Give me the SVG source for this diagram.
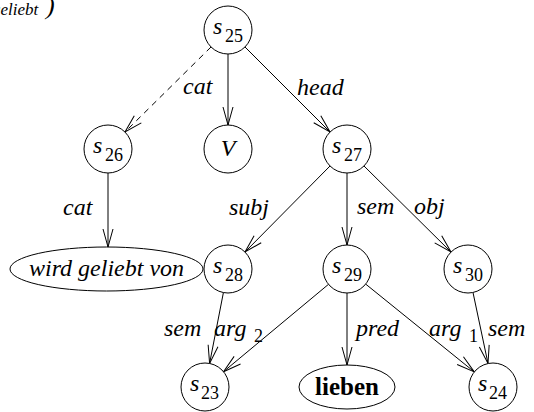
<svg xmlns="http://www.w3.org/2000/svg" width="534" height="412" viewBox="0 0 534 412">
  <style>
    .node { fill: #fff; stroke: #000; stroke-width: 1; }
    .edge { fill: none; stroke: #000; stroke-width: 1; marker-end: url(#arrow); }
    .dashed { stroke-dasharray: 6 5; }
    text { font-family: 'Liberation Serif', 'Times New Roman', Times, 'Nimbus Roman', 'TeX Gyre Termes', FreeSerif, 'Noto Serif', 'DejaVu Serif', serif; fill: #000; }
    .lbl { font-style: italic; font-size: 24px; }
    .sym { font-style: italic; font-size: 24px; }
    .sub { font-style: normal; font-size: 18px; }
    .bold { font-weight: bold; font-size: 25px; }
  </style>
  <defs>
    <marker id="arrow" markerUnits="userSpaceOnUse" markerWidth="24" markerHeight="14" refX="0" refY="0" viewBox="-20 -7 22 14" orient="auto">
      <path d="M-18,-5 L0,0 L-18,5" fill="none" stroke="#000" stroke-width="1"/>
    </marker>
  </defs>

  <!-- heading fragment, clipped by the top-left corner -->
  <text class="lbl" x="-8" y="15" style="font-size:17px">geliebt</text>
  <text class="lbl" x="46" y="14" style="font-size:26px">)</text>

  <!-- connectors -->
  <g id="edges">
    <line class="edge dashed" x1="211" y1="47" x2="125" y2="132"/>
    <line class="edge" x1="228" y1="54" x2="228" y2="125"/>
    <line class="edge" x1="245" y1="47" x2="330" y2="132"/>
    <line class="edge" x1="108" y1="173" x2="108" y2="247"/>
    <line class="edge" x1="330" y1="166" x2="245" y2="252"/>
    <line class="edge" x1="347" y1="173" x2="347" y2="245"/>
    <line class="edge" x1="364" y1="166" x2="451" y2="252"/>
    <line class="edge" x1="223.4" y1="292.6" x2="209.6" y2="363.4"/>
    <line class="edge" x1="328.5" y1="284.3" x2="223.5" y2="371.7"/>
    <line class="edge" x1="347" y1="293" x2="347" y2="365"/>
    <line class="edge" x1="365.7" y1="284.1" x2="474.3" y2="371.9"/>
    <line class="edge" x1="473" y1="292.5" x2="488" y2="363.5"/>

    <!-- edge labels -->
    <text class="lbl" x="183" y="94">cat</text>
    <text class="lbl" x="297" y="95">head</text>
    <text class="lbl" x="63" y="215">cat</text>
    <text class="lbl" x="229" y="215">subj</text>
    <text class="lbl" x="357" y="214">sem</text>
    <text class="lbl" x="414" y="214">obj</text>
    <text class="lbl" x="164" y="336">sem</text>
    <text class="lbl" x="214" y="336">arg</text>
    <text class="sub" x="254" y="342">2</text>
    <text class="lbl" x="356" y="336">pred</text>
    <text class="lbl" x="429" y="336">arg</text>
    <text class="sub" x="469" y="342">1</text>
    <text class="lbl" x="488" y="336">sem</text>
  </g>

  <!-- nodes -->
  <g id="s25">
    <circle class="node" cx="228" cy="30" r="24"/>
    <text class="sym" x="213" y="34">s</text><text class="sub" x="225" y="42">25</text>
  </g>
  <g id="s26">
    <circle class="node" cx="108" cy="149" r="24"/>
    <text class="sym" x="93" y="153">s</text><text class="sub" x="105" y="161">26</text>
  </g>
  <g id="V">
    <circle class="node" cx="228" cy="149" r="24"/>
    <text class="sym" x="228" y="156" text-anchor="middle">V</text>
  </g>
  <g id="s27">
    <circle class="node" cx="347" cy="149" r="24"/>
    <text class="sym" x="332" y="153">s</text><text class="sub" x="344" y="161">27</text>
  </g>
  <g id="wird-geliebt-von">
    <ellipse class="node" cx="106.5" cy="269" rx="96.5" ry="22"/>
    <text class="lbl" x="106.5" y="276" text-anchor="middle">wird geliebt von</text>
  </g>
  <g id="s28">
    <circle class="node" cx="228" cy="269" r="24"/>
    <text class="sym" x="213" y="273">s</text><text class="sub" x="225" y="281">28</text>
  </g>
  <g id="s29">
    <circle class="node" cx="347" cy="269" r="24"/>
    <text class="sym" x="332" y="273">s</text><text class="sub" x="344" y="281">29</text>
  </g>
  <g id="s30">
    <circle class="node" cx="468" cy="269" r="24"/>
    <text class="sym" x="453" y="273">s</text><text class="sub" x="465" y="281">30</text>
  </g>
  <g id="s23">
    <circle class="node" cx="205" cy="387" r="24"/>
    <text class="sym" x="190" y="391">s</text><text class="sub" x="201" y="399">23</text>
  </g>
  <g id="lieben">
    <ellipse class="node" cx="347" cy="387" rx="48" ry="22"/>
    <text class="bold" x="347" y="395" text-anchor="middle">lieben</text>
  </g>
  <g id="s24">
    <circle class="node" cx="493" cy="387" r="24"/>
    <text class="sym" x="478" y="391">s</text><text class="sub" x="489" y="399">24</text>
  </g>
</svg>
